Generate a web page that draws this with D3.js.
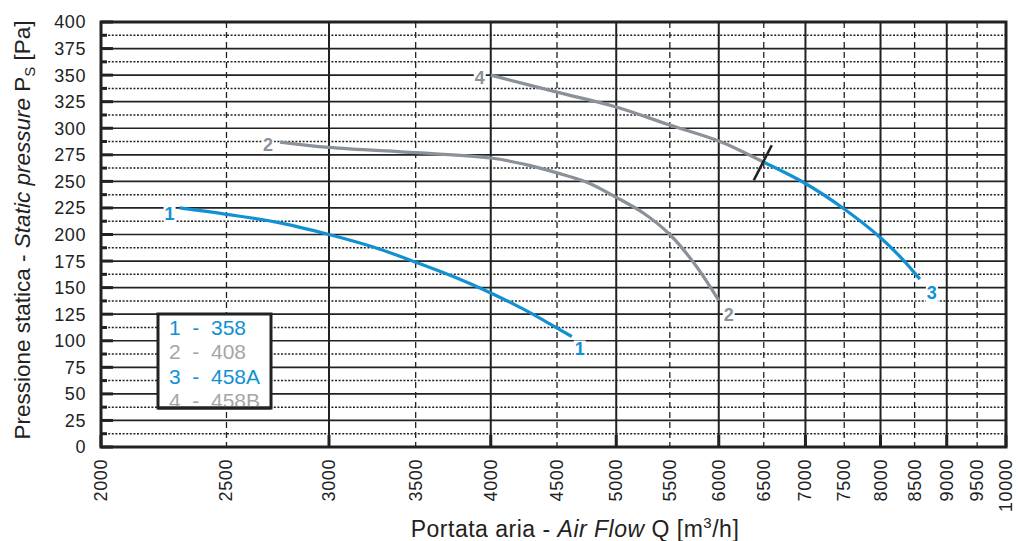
<!DOCTYPE html>
<html><head><meta charset="utf-8">
<script src="https://cdn.jsdelivr.net/npm/d3@7"></script>
<style>
html,body{margin:0;padding:0;background:#fff;}
svg{display:block;font-family:"Liberation Sans",Arial,sans-serif;}
</style></head>
<body>
<svg id="c" width="1020" height="541"></svg>
<script>
// ---- data ----
const xTicks = [2000,2500,3000,3500,4000,4500,5000,5500,6000,6500,7000,7500,8000,8500,9000,9500,10000];
const yTicks = [0,25,50,75,100,125,150,175,200,225,250,275,300,325,350,375,400];
const curve1 = [[2300,225],[2500,219],[2750,211],[3000,200],[3250,188],[3500,174],[3750,160],[4000,145],[4250,129],[4500,112],[4620,104]];
const curve2 = [[2750,287],[3000,282],[3500,277],[4000,272],[4250,266],[4500,258],[4750,249],[5000,235],[5250,220],[5500,200],[5750,172],[6000,138]];
const curve3 = [[6500,268],[7000,248],[7500,224],[8000,197],[8300,178],[8580,158]];
const curve4 = [[4000,350],[4500,334],[5000,320],[5500,303],[6000,288],[6500,268]];
const seriesNames = ["1  -  358","2  -  408","3  -  458A","4  -  458B"];

const BLUE = "#1191d2", GRAY = "#8a9198", LGRAY = "#a6a6a6";

const svg = d3.select("#c");
const X0=101, X1=1006, Y0=22, Y1=447;
const x = d3.scaleLog().domain([2000,10000]).range([X0,X1]);
const y = d3.scaleLinear().domain([0,400]).range([Y1,Y0]);

const g = svg.append("g");

// horizontal dotted half-lines
const halfs = yTicks.slice(0,-1).map(v=>v+12.5);
g.selectAll(".hd").data(halfs).enter().append("line")
  .attr("x1",X0).attr("x2",X1).attr("y1",d=>y(d)).attr("y2",d=>y(d))
  .attr("stroke","#222").attr("stroke-width",1.5).attr("stroke-dasharray","2,1.6");
// horizontal solid
g.selectAll(".hs").data(yTicks).enter().append("line")
  .attr("x1",X0).attr("x2",X1).attr("y1",d=>y(d)).attr("y2",d=>y(d))
  .attr("stroke","#222").attr("stroke-width",1.7);
// left thick ticks
g.selectAll(".lt").data(yTicks).enter().append("line")
  .attr("x1",X0).attr("x2",X0+12).attr("y1",d=>y(d)).attr("y2",d=>y(d))
  .attr("stroke","#222").attr("stroke-width",3);
g.selectAll(".lt2").data(halfs).enter().append("line")
  .attr("x1",X0).attr("x2",X0+6).attr("y1",d=>y(d)).attr("y2",d=>y(d))
  .attr("stroke","#222").attr("stroke-width",3);
// vertical lines
const major = xTicks.filter(v=>v%1000===0), minor = xTicks.filter(v=>v%1000!==0);
g.selectAll(".vm").data(minor).enter().append("line")
  .attr("x1",d=>x(d)).attr("x2",d=>x(d)).attr("y1",Y0).attr("y2",Y1)
  .attr("stroke","#222").attr("stroke-width",1.3).attr("stroke-dasharray","6,4");
g.selectAll(".vM").data(major).enter().append("line")
  .attr("x1",d=>x(d)).attr("x2",d=>x(d)).attr("y1",Y0).attr("y2",Y1)
  .attr("stroke","#222").attr("stroke-width",2);
// bottom ticks on major
g.selectAll(".bt").data(major).enter().append("line")
  .attr("x1",d=>x(d)).attr("x2",d=>x(d)).attr("y1",Y1).attr("y2",Y1-12)
  .attr("stroke","#222").attr("stroke-width",3);

// frame
g.append("rect").attr("x",X0).attr("y",Y0).attr("width",X1-X0).attr("height",Y1-Y0)
  .attr("fill","none").attr("stroke","#222").attr("stroke-width",3);

// y tick labels
svg.selectAll(".yl").data(yTicks).enter().append("text")
  .attr("x",86).attr("y",d=>y(d)).attr("dy","0.36em").attr("text-anchor","end")
  .attr("font-size",18).attr("letter-spacing",0.6).attr("fill","#222").text(d=>d);
// x tick labels
svg.selectAll(".xl").data(xTicks).enter().append("text")
  .attr("transform",d=>`translate(${x(d)+6},459) rotate(-90)`)
  .attr("text-anchor","end").attr("font-size",18).attr("letter-spacing",0.6).attr("fill","#222").text(d=>d);

// axis titles
const yt = svg.append("text").attr("transform","translate(30,230) rotate(-90)")
  .attr("text-anchor","middle").attr("font-size",22.5).attr("fill","#222");
yt.append("tspan").text("Pressione statica - ");
yt.append("tspan").attr("font-style","italic").text("Static pressure");
yt.append("tspan").text(" P");
yt.append("tspan").attr("font-size",15).attr("dy",5).text("S");
yt.append("tspan").attr("dy",-5).text(" [Pa]");

const xt = svg.append("text").attr("x",575).attr("y",537)
  .attr("text-anchor","middle").attr("font-size",23).attr("letter-spacing",0.5).attr("fill","#222");
xt.append("tspan").text("Portata aria - ");
xt.append("tspan").attr("font-style","italic").text("Air Flow");
xt.append("tspan").text(" Q [m");
xt.append("tspan").attr("font-size",15).attr("dy",-9).text("3");
xt.append("tspan").attr("dy",9).text("/h]");

// curves
const line = d3.line().x(d=>x(d[0])).y(d=>y(d[1])).curve(d3.curveCatmullRom.alpha(0.5));
const curves = [[curve1,BLUE],[curve2,GRAY],[curve3,BLUE],[curve4,GRAY]];
svg.selectAll(".cv").data(curves).enter().append("path")
  .attr("d",d=>line(d[0])).attr("fill","none").attr("stroke",d=>d[1]).attr("stroke-width",3.2)
  .attr("stroke-linecap","butt");

// break marker at junction of curve4/curve3
const jp = curve3[0];
svg.append("line").attr("x1",x(jp[0])-10).attr("y1",y(jp[1])+18)
  .attr("x2",x(jp[0])+8).attr("y2",y(jp[1])-17)
  .attr("stroke","#222").attr("stroke-width",2.6);

// curve labels
function lab(txt, pt, dx, dy, col){
  const t = svg.append("text").attr("x",x(pt[0])+dx).attr("y",y(pt[1])+dy)
    .attr("text-anchor","middle").attr("font-size",18).attr("font-weight","bold")
    .attr("fill",col).text(txt);
  const b = t.node().getBBox();
  svg.insert("rect",function(){return t.node();}).attr("x",b.x-1).attr("y",b.y+2).attr("width",b.width+2).attr("height",b.height-3).attr("fill","#fff");
}
lab("1", curve1[0], -10, 12, BLUE);
lab("1", curve1[curve1.length-1], 8, 18, BLUE);
lab("2", curve2[0], -12, 9, GRAY);
lab("2", curve2[curve2.length-1], 10, 21, GRAY);
lab("3", curve3[curve3.length-1], 12, 20, BLUE);
lab("4", curve4[0], -11, 9, GRAY);

// legend
const lg = svg.append("g");
lg.append("rect").attr("x",158).attr("y",314).attr("width",113).attr("height",94)
  .attr("fill","#fff").attr("stroke","#222").attr("stroke-width",3);
const lcols = [BLUE,LGRAY,BLUE,LGRAY];
lg.selectAll("text").data(seriesNames).enter().append("text")
  .attr("x",169).attr("y",(d,i)=>335+i*24.4).attr("font-size",21)
  .attr("fill",(d,i)=>lcols[i]).attr("xml:space","preserve").style("white-space","pre").text(d=>d);
// re-stroke legend bottom border over the last row as in reference
lg.append("line").attr("x1",158).attr("x2",271).attr("y1",408).attr("y2",408)
  .attr("stroke","#222").attr("stroke-width",3);
</script>
</body></html>
